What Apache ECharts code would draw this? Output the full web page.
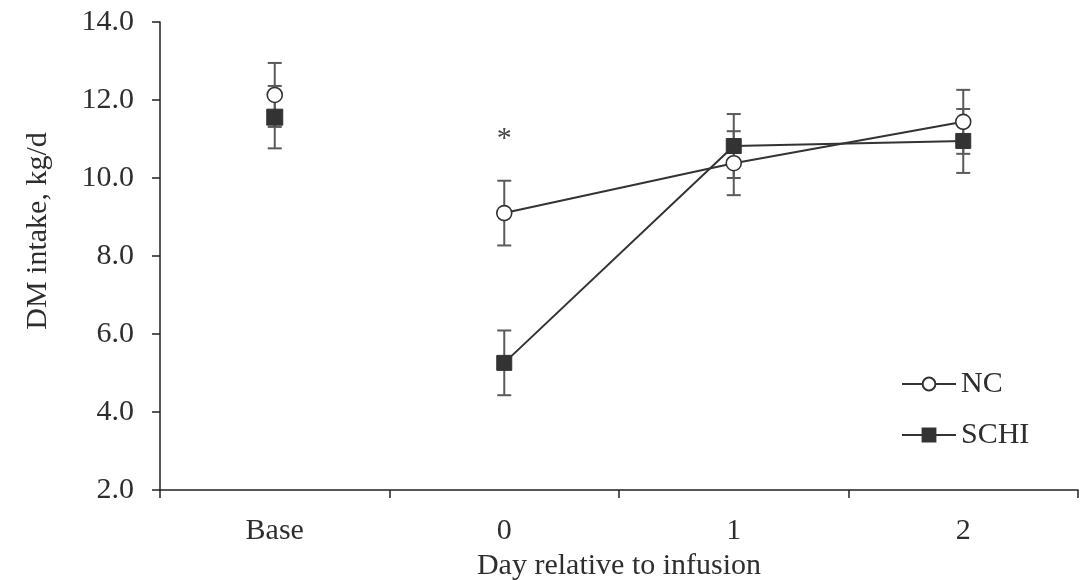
<!DOCTYPE html>
<html>
<head>
<meta charset="utf-8">
<script src="https://cdn.jsdelivr.net/npm/echarts@6/dist/echarts.min.js"></script>
<style>
html,body{margin:0;padding:0;background:#fff;}
#chart{width:1087px;height:580px;}
</style>
</head>
<body>
<div id="chart"></div>
<script>
// ---- data ----
const categories = ['Base', '0', '1', '2'];
const ncMean   = [12.13, 9.10, 10.38, 11.44];
const ncSE     = [0.82, 0.83, 0.82, 0.82];
const schiMean = [11.56, 5.26, 10.82, 10.95];
const schiSE   = [0.80, 0.83, 0.82, 0.82];
const sigLabels = ['', '*', '', ''];
const yTicks = [2, 4, 6, 8, 10, 12, 14];

// ---- build ----
const FONT = '"Liberation Serif", "DejaVu Serif", serif';
const TXT = '#2e2e2e';
const LINE = '#333333';
const ERR = '#5a5a5a';

function errData(mean, se) {
  return mean.map((m, i) => [i, m, se[i]]);
}
const errLabels = { 'NC err': sigLabels, 'SCHI err': null };
function renderErr(params, api) {
  const i = api.value(0), m = api.value(1), se = api.value(2);
  const top = api.coord([i, m + se]);
  const bot = api.coord([i, m - se]);
  const hw = 7;
  const st = { stroke: ERR, lineWidth: 2 };
  const children = [
    { type: 'line', shape: { x1: top[0], y1: top[1], x2: bot[0], y2: bot[1] }, style: st },
    { type: 'line', shape: { x1: top[0] - hw, y1: top[1], x2: top[0] + hw, y2: top[1] }, style: st },
    { type: 'line', shape: { x1: bot[0] - hw, y1: bot[1], x2: bot[0] + hw, y2: bot[1] }, style: st }
  ];
  const labs = errLabels[params.seriesName];
  const lab = labs ? labs[params.dataIndex] : '';
  if (lab) {
    children.push({ type: 'text', x: top[0], y: top[1] - 42,
      style: { text: lab, fill: '#444', font: '30px ' + FONT, textAlign: 'center', textVerticalAlign: 'middle' } });
  }
  return { type: 'group', children };
}

const circleStyle = { color: '#ffffff', borderColor: LINE, borderWidth: 1.6, opacity: 1 };
const squareStyle = { color: '#333333', borderColor: '#333333', borderWidth: 1, opacity: 1 };

const chart = echarts.init(document.getElementById('chart'), null, { renderer: 'canvas' });
chart.setOption({
  animation: false,
  backgroundColor: '#ffffff',
  textStyle: { fontFamily: FONT, color: TXT },
  grid: { left: 160, right: 9, top: 22, bottom: 90, containLabel: false, outerBoundsMode: 'none' },
  legend: {
    data: ['NC', 'SCHI'],
    orient: 'vertical',
    left: 896, top: 364,
    itemWidth: 54, itemHeight: 16, itemGap: 21,
    textStyle: { fontFamily: FONT, fontSize: 30, color: TXT },
    selectedMode: false
  },
  xAxis: {
    type: 'category',
    data: categories,
    boundaryGap: true,
    name: 'Day relative to infusion',
    nameLocation: 'middle',
    nameGap: 56,
    nameTextStyle: { fontFamily: FONT, fontSize: 30, color: TXT },
    axisLine: { lineStyle: { color: '#222', width: 1.5 } },
    axisTick: { show: true, length: 8, lineStyle: { color: '#222', width: 1.5 } },
    axisLabel: { fontFamily: FONT, fontSize: 30, color: TXT, margin: 26 },
    splitLine: { show: false }
  },
  yAxis: {
    type: 'value',
    min: yTicks[0], max: yTicks[yTicks.length - 1], interval: 2,
    axisLine: { show: true, lineStyle: { color: '#222', width: 1.5 } },
    axisTick: { show: true, length: 8, lineStyle: { color: '#222', width: 1.5 } },
    axisLabel: { fontFamily: FONT, fontSize: 30, color: TXT, margin: 26,
      formatter: v => v.toFixed(1) },
    splitLine: { show: false }
  },
  graphic: [{
    type: 'text', x: 38, y: 231, rotation: Math.PI / 2,
    style: { text: 'DM intake, kg/d', fill: TXT, font: '30px ' + FONT,
      textAlign: 'center', textVerticalAlign: 'middle' }
  }],
  series: [
    { name: 'NC err', type: 'custom', z: 1, data: errData(ncMean, ncSE), renderItem: renderErr, silent: true },
    { name: 'SCHI err', type: 'custom', z: 1, data: errData(schiMean, schiSE), renderItem: renderErr, silent: true },
    { name: 'NC', type: 'line', z: 3, data: ncMean.map((v, i) => i === 0 ? '-' : v),
      symbol: 'circle', symbolSize: 15, showAllSymbol: true,
      lineStyle: { color: LINE, width: 2 }, itemStyle: circleStyle },
    { name: 'SCHI', type: 'line', z: 2, data: schiMean.map((v, i) => i === 0 ? '-' : v),
      symbol: 'rect', symbolSize: 15, showAllSymbol: true,
      lineStyle: { color: LINE, width: 2 }, itemStyle: squareStyle },
    { name: 'NC base', type: 'scatter', z: 3, data: ncMean.map((v, i) => i === 0 ? v : '-'),
      symbol: 'circle', symbolSize: 15, itemStyle: circleStyle },
    { name: 'SCHI base', type: 'scatter', z: 2, data: schiMean.map((v, i) => i === 0 ? v : '-'),
      symbol: 'rect', symbolSize: 16, itemStyle: squareStyle }
  ]
});
</script>
</body>
</html>
